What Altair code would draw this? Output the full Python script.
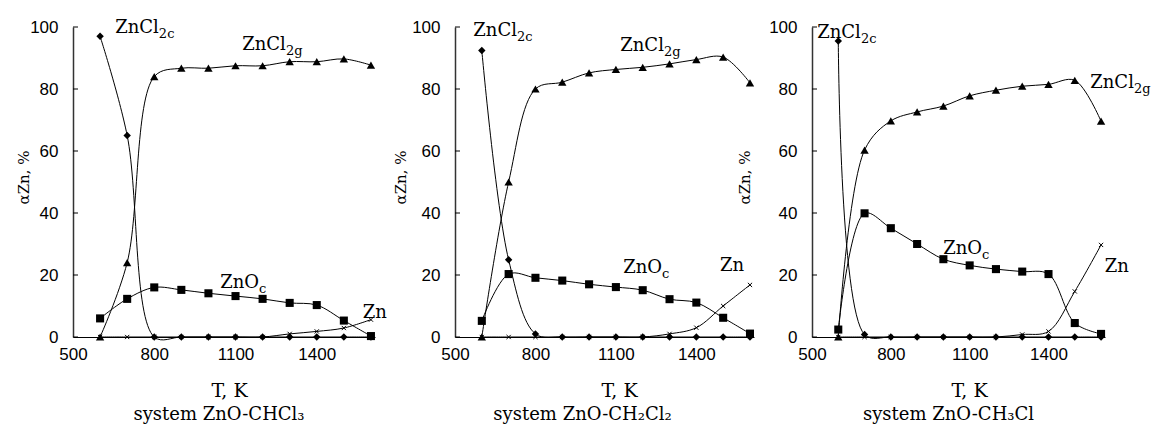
import altair as alt
import pandas as pd

# ---------------- data ----------------
T = [600, 700, 800, 900, 1000, 1100, 1200, 1300, 1400, 1500, 1600]
SERIES = ["ZnCl2c", "ZnCl2g", "ZnOc", "Zn"]

# system ZnO-CHCl3
chcl3_zncl2c = [97, 65, 0, 0, 0, 0, 0, 0, 0, 0, 0]
chcl3_zncl2g = [0, 24, 84, 86.7, 86.7, 87.5, 87.5, 88.8, 88.8, 89.7, 87.7]
chcl3_znoc = [6, 12.3, 16, 15.2, 14.1, 13.2, 12.3, 11, 10.3, 5.3, 0.3]
chcl3_zn = [0, 0, 0, 0, 0, 0, 0, 1, 1.8, 2.9, 5.6]

# system ZnO-CH2Cl2
ch2cl2_zncl2c = [92.4, 24.9, 1, 0, 0, 0, 0, 0, 0, 0, 0]
ch2cl2_zncl2g = [0, 50, 80, 82.2, 85.2, 86.3, 87, 88.1, 89.5, 90.3, 82]
ch2cl2_znoc = [5.2, 20.3, 19.1, 18.2, 17, 16.1, 15.1, 12.2, 11.1, 6.2, 1.1]
ch2cl2_zn = [0, 0, 0, 0, 0, 0, 0, 1, 3, 10, 16.8]

# system ZnO-CH3Cl
ch3cl_zncl2c = [95.5, 0.8, 0, 0, 0, 0, 0, 0, 0, 0, 0]
ch3cl_zncl2g = [0, 60.3, 69.7, 72.6, 74.5, 77.8, 79.6, 80.9, 81.5, 82.8, 69.6]
ch3cl_znoc = [2.4, 39.9, 35.1, 30, 25.1, 23.1, 21.9, 21.1, 20.3, 4.5, 1]
ch3cl_zn = [0, 0, 0, 0, 0, 0, 0, 0.8, 1.8, 14.7, 29.7]

panel_titles = ["system ZnO-CHCl\u2083", "system ZnO-CH\u2082Cl\u2082", "system ZnO-CH\u2083Cl"]
x_ticks = [500, 800, 1100, 1400]
y_ticks = [0, 20, 40, 60, 80, 100]

# curve labels: main text, subscript, anchor (junction) T, anchor value
label_main = ["ZnCl", "ZnCl", "ZnO", "Zn"]
label_sub = ["2c", "2g", "c", ""]
p1_label_T = [817, 1286, 1187, 1659]
p1_label_v = [99.7, 94.2, 17.4, 7.7]
p2_label_T = [731, 1279, 1272, 1578]
p2_label_v = [98.7, 93.9, 22.3, 22.9]
p3_label_T = [686, 1725, 1147, 1706]
p3_label_v = [98, 81.9, 28.4, 22.6]

panels = [
    (panel_titles[0], [chcl3_zncl2c, chcl3_zncl2g, chcl3_znoc, chcl3_zn], p1_label_T, p1_label_v),
    (panel_titles[1], [ch2cl2_zncl2c, ch2cl2_zncl2g, ch2cl2_znoc, ch2cl2_zn], p2_label_T, p2_label_v),
    (panel_titles[2], [ch3cl_zncl2c, ch3cl_zncl2g, ch3cl_znoc, ch3cl_zn], p3_label_T, p3_label_v),
]

# ---------------- styling / layout ----------------
view_w = [324, 299, 293]      # width of each panel's plot area
axis_len = [302, 299, 293]    # length of the drawn x axis
H = 310
ytitle_x = [-50, -55, -68]
xtitle_x = [156, 164, 157]
title_dx = [-16, -22, -10]
SERIF = "DejaVu Serif"
SANS = "Liberation Sans"
CROSS = "M-1,-1L1,1M-1,1L1,-1"


def make_panel(i):
    title, vals, lT, lv = panels[i]
    rows = []
    for s, arr in zip(SERIES, vals):
        for t, v in zip(T, arr):
            rows.append({"T": t, "v": v, "s": s})
    df = pd.DataFrame(rows)
    labels = pd.DataFrame({"T": lT, "v": lv, "main": label_main, "sub": label_sub})
    ticks = pd.DataFrame({"v": y_ticks})

    xs = alt.Scale(domain=[500, 1615], nice=False, zero=False, range=[0, axis_len[i]])
    ys = alt.Scale(domain=[0, 100], nice=False)
    xax = alt.Axis(values=x_ticks, format="d", title="T, K", grid=False, ticks=False, tickSize=0,
                   labelFont=SANS, labelFontSize=17, labelColor="black", labelPadding=9,
                   labelFlush=False,
                   domainColor="black", domainWidth=1,
                   titleFont=SERIF, titleFontSize=19, titleFontWeight="normal", titleColor="black",
                   titleX=xtitle_x[i], titleY=53, titleBaseline="middle", titleAlign="center")
    yax = alt.Axis(values=y_ticks, format="d", title="\u03b1Zn, %", grid=False, ticks=False,
                   tickSize=0,
                   labelFont=SANS, labelFontSize=17, labelColor="black", labelPadding=15,
                   labelFlush=False,
                   domainColor="#333333", domainWidth=1.5,
                   titleFont=SERIF, titleFontSize=15, titleFontWeight="normal", titleColor="black",
                   titleX=ytitle_x[i], titleY=150, titleBaseline="middle", titleAlign="center",
                   titleAngle=270)

    base = alt.Chart(df).encode(
        x=alt.X("T:Q", scale=xs, axis=xax),
        y=alt.Y("v:Q", scale=ys, axis=yax),
    )
    lines = base.mark_line(interpolate="catmull-rom", color="black", strokeWidth=1).encode(
        detail="s:N")
    dia = base.transform_filter(alt.datum.s == "ZnCl2c").mark_point(
        shape="diamond", filled=True, color="black", size=55, opacity=1)
    tri = base.transform_filter(alt.datum.s == "ZnCl2g").mark_point(
        shape="triangle-up", filled=True, color="black", size=70, opacity=1)
    sq = base.transform_filter(alt.datum.s == "ZnOc").mark_point(
        shape="square", filled=True, color="black", size=65, opacity=1)
    crs = base.transform_filter(alt.datum.s == "Zn").mark_point(
        shape=CROSS, filled=False, color="black", size=18, strokeWidth=1, opacity=1)

    tk = alt.Chart(ticks).mark_rule(color="black", strokeWidth=1).encode(
        y=alt.Y("v:Q", scale=ys), x=alt.value(0), x2=alt.value(5))

    lab = alt.Chart(labels).encode(x=alt.X("T:Q", scale=xs), y=alt.Y("v:Q", scale=ys))
    main = lab.mark_text(align="right", baseline="middle", font=SERIF, fontSize=18,
                         color="black").encode(text="main:N")
    sub = lab.mark_text(align="left", baseline="middle", font=SERIF, fontSize=13, dy=6,
                        color="black").encode(text="sub:N")

    return alt.layer(lines, dia, tri, sq, crs, tk, main, sub).properties(
        width=view_w[i], height=H,
        title=alt.TitleParams(text=title, orient="bottom", anchor="middle", font=SERIF,
                              fontSize=18, fontWeight="normal", color="black",
                              offset=6, dx=title_dx[i]),
    )


chart = alt.hconcat(make_panel(0), make_panel(1), make_panel(2), spacing=58,
                    bounds="flush").properties(
    padding={"left": 16, "top": 18, "right": 0, "bottom": 0},
    background="white",
).configure_view(stroke=None)

chart.save("out.html", embed_options={"renderer": "svg", "actions": False})
